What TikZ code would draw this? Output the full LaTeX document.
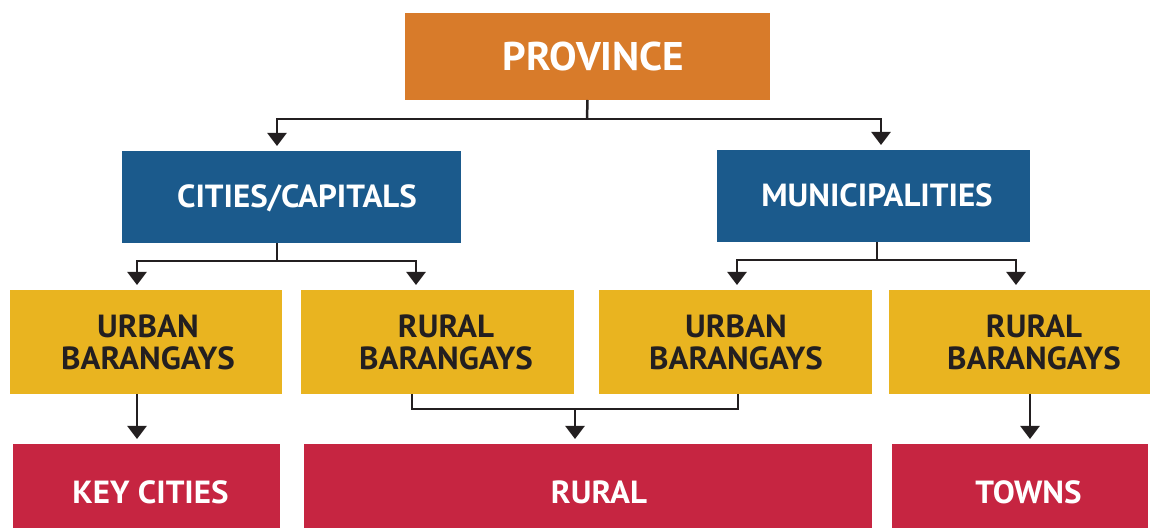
\documentclass[tikz,border=0pt]{standalone}
\usepackage{fontspec}
\setmainfont{PT Sans}
\newfontfamily\labelfont[FakeStretch=1.03]{PT Sans}
\usetikzlibrary{arrows.meta}
\definecolor{orangeP}{HTML}{D87B2A}
\definecolor{blueP}{HTML}{1B5A8C}
\definecolor{yellowP}{HTML}{E9B420}
\definecolor{redP}{HTML}{C62541}
\definecolor{inkP}{HTML}{231F20}
\begin{document}
\begin{tikzpicture}[x=0.5pt,y=-0.5pt,
  box/.style={rectangle, inner sep=0pt, outer sep=0pt},
  provbox/.style={box, fill=orangeP},
  bluebox/.style={box, fill=blueP},
  yelbox/.style={box, fill=yellowP},
  redbox/.style={box, fill=redP},
  lbl/.style={inner sep=0pt, align=center, font=\labelfont\bfseries\fontsize{16}{16}\selectfont},
  wlbl/.style={lbl, text=white, anchor=base},
  provlbl/.style={wlbl, font=\labelfont\bfseries\fontsize{20}{22}\selectfont},
  dlbl/.style={lbl, text=inkP},
  conn/.style={draw=inkP, line width=1.25pt},
  arr/.style={conn, -{Triangle[width=9.5pt,length=6.5pt]}, shorten >=2.5pt}
]
\useasboundingbox (0,0) rectangle (1153,528);
% boxes
\node[provbox, minimum width=182.5pt, minimum height=43.5pt] (prov) at (587.5,56.5) {};
\node[bluebox, minimum width=169.5pt, minimum height=46pt] (cities) at (291.5,197) {};
\node[bluebox, minimum width=156.5pt, minimum height=46pt] (muni) at (873.5,196) {};
\node[yelbox, minimum width=136pt, minimum height=52pt] (y1) at (146,342) {};
\node[yelbox, minimum width=136.5pt, minimum height=52pt] (y2) at (437.5,342) {};
\node[yelbox, minimum width=136.5pt, minimum height=52pt] (y3) at (735.5,342) {};
\node[yelbox, minimum width=130.5pt, minimum height=52pt] (y4) at (1019.5,342) {};
\node[redbox, minimum width=133.5pt, minimum height=48pt] (r1) at (146.5,492) {};
\node[redbox, minimum width=284pt, minimum height=48pt] (r2) at (588,492) {};
\node[redbox, minimum width=128pt, minimum height=48pt] (r3) at (1020,492) {};
% labels
\node[provlbl] (provt) at (593.5,71) {PROVINCE};
\node[wlbl] (citiest) at (297,208) {CITIES/CAPITALS};
\node[wlbl] (munit) at (877,207) {MUNICIPALITIES};
\node[dlbl] (y1t) at (148,342) {URBAN\\BARANGAYS};
\node[dlbl] (y2t) at (446,342) {RURAL\\BARANGAYS};
\node[dlbl] (y3t) at (736,342) {URBAN\\BARANGAYS};
\node[dlbl] (y4t) at (1034,342) {RURAL\\BARANGAYS};
\node[wlbl] (r1t) at (150.5,503.5) {KEY CITIES};
\node[wlbl] (r2t) at (599,503.5) {RURAL};
\node[wlbl] (r3t) at (1028.5,503.5) {TOWNS};
% junction coordinates
\coordinate (pj) at (587,119);
\coordinate (cj) at (277,261);
\coordinate (mj) at (877,260);
\coordinate (bj) at (575,409);
% province
\draw[conn] (prov.south) -- (pj);
\draw[arr] (pj) -| (cities.north -| cj);
\draw[arr] (pj) -| (muni.north -| 881,0);
% cities
\draw[conn] (cities.south -| cj) -- (cj);
\draw[arr] (cj) -| (y1.north -| 137,0);
\draw[arr] (cj) -| (y2.north -| 416,0);
% municipalities
\draw[conn] (muni.south -| mj) -- (mj);
\draw[arr] (mj) -| (y3.north -| 737,0);
\draw[arr] (mj) -| (y4.north -| 1016,0);
% bottom
\draw[arr] (y1.south -| 137,0) -- (r1.north -| 137,0);
\draw[conn] (y2.south -| 412,0) |- (bj) -| (y3.south -| 738,0);
\draw[arr] (bj) -- (r2.north -| bj);
\draw[arr] (y4.south -| 1030,0) -- (r3.north -| 1030,0);
\end{tikzpicture}
\end{document}
